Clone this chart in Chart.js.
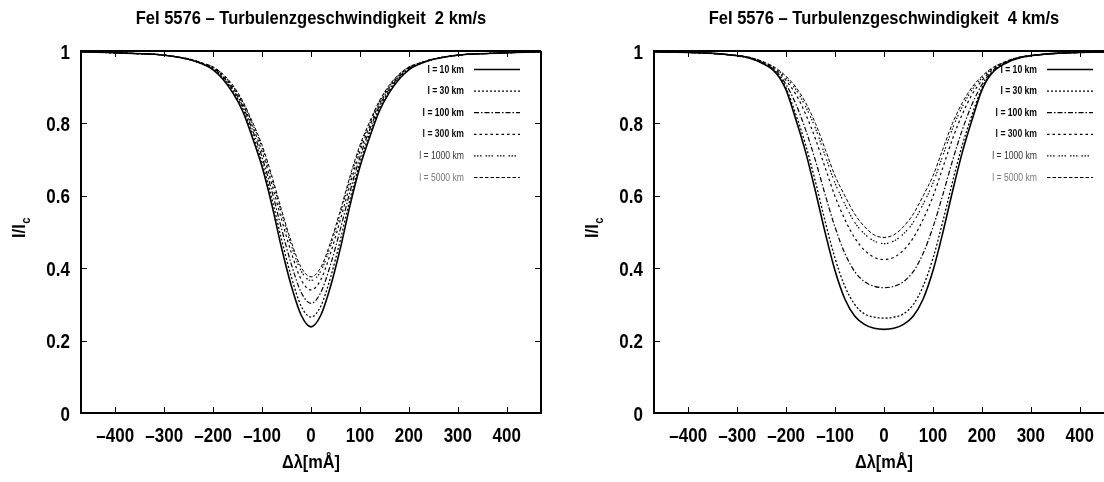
<!DOCTYPE html>
<html>
<head>
<meta charset="utf-8">
<script src="https://cdn.jsdelivr.net/npm/chart.js@4"></script>
<style>
  html, body { margin: 0; padding: 0; background: #fff; overflow: hidden; }
  #wrap { position: relative; width: 1104px; height: 482px; overflow: hidden; }
  canvas { position: absolute; top: 0; }
  #c1 { left: 0; }
  #c2 { left: 573px; }
</style>
</head>
<body>
<div id="wrap">
  <canvas id="c1" width="552" height="482"></canvas>
  <canvas id="c2" width="552" height="482"></canvas>
</div>
<script>
// wavelength offsets in mA
var dlam = [-470,-440,-400,-360,-320,-280,-250,-220,-200,-180,-160,-140,-120,-100,-80,-60,-40,-20,0,20,40,60,80,100,120,140,160,180,200,220,250,280,320,360,400,440,470];

var seriesNames = ['l = 10 km', 'l = 30 km', 'l = 100 km', 'l = 300 km', 'l = 1000 km', 'l = 5000 km'];

// turbulence 2 km/s
var v2_l10   = [0.998,0.997,0.995,0.993,0.991,0.985,0.977,0.963,0.948,0.922,0.885,0.835,0.762,0.680,0.575,0.455,0.350,0.270,0.238,0.270,0.350,0.455,0.575,0.680,0.762,0.835,0.885,0.922,0.948,0.963,0.977,0.985,0.991,0.993,0.995,0.997,0.998];
var v2_l30   = [0.998,0.997,0.995,0.993,0.991,0.985,0.977,0.963,0.950,0.926,0.890,0.842,0.772,0.692,0.592,0.478,0.375,0.295,0.265,0.295,0.375,0.478,0.592,0.692,0.772,0.842,0.890,0.926,0.950,0.963,0.977,0.985,0.991,0.993,0.995,0.997,0.998];
var v2_l100  = [0.998,0.997,0.995,0.993,0.991,0.985,0.977,0.964,0.952,0.929,0.895,0.849,0.783,0.707,0.613,0.508,0.410,0.333,0.303,0.333,0.410,0.508,0.613,0.707,0.783,0.849,0.895,0.929,0.952,0.964,0.977,0.985,0.991,0.993,0.995,0.997,0.998];
var v2_l300  = [0.998,0.997,0.995,0.993,0.991,0.985,0.978,0.965,0.954,0.932,0.900,0.855,0.793,0.722,0.632,0.534,0.442,0.368,0.340,0.368,0.442,0.534,0.632,0.722,0.793,0.855,0.900,0.932,0.954,0.965,0.978,0.985,0.991,0.993,0.995,0.997,0.998];
var v2_l1000 = [0.998,0.997,0.995,0.993,0.991,0.985,0.978,0.966,0.955,0.934,0.903,0.860,0.800,0.733,0.647,0.552,0.462,0.392,0.366,0.392,0.462,0.552,0.647,0.733,0.800,0.860,0.903,0.934,0.955,0.966,0.978,0.985,0.991,0.993,0.995,0.997,0.998];
var v2_l5000 = [0.998,0.997,0.995,0.993,0.991,0.985,0.978,0.966,0.956,0.936,0.906,0.863,0.805,0.740,0.655,0.560,0.472,0.402,0.376,0.402,0.472,0.560,0.655,0.740,0.805,0.863,0.906,0.936,0.956,0.966,0.978,0.985,0.991,0.993,0.995,0.997,0.998];

// turbulence 4 km/s
var v4_l10   = [0.998,0.997,0.996,0.994,0.990,0.982,0.967,0.938,0.892,0.810,0.720,0.612,0.497,0.393,0.315,0.268,0.245,0.234,0.231,0.234,0.245,0.268,0.315,0.393,0.497,0.612,0.720,0.810,0.892,0.938,0.967,0.982,0.990,0.994,0.996,0.997,0.998];
var v4_l30   = [0.998,0.997,0.996,0.994,0.990,0.982,0.968,0.940,0.897,0.824,0.740,0.638,0.528,0.427,0.350,0.300,0.274,0.265,0.262,0.265,0.274,0.300,0.350,0.427,0.528,0.638,0.740,0.824,0.897,0.940,0.968,0.982,0.990,0.994,0.996,0.997,0.998];
var v4_l100  = [0.998,0.997,0.996,0.994,0.990,0.983,0.969,0.943,0.907,0.853,0.782,0.697,0.602,0.513,0.441,0.391,0.363,0.350,0.346,0.350,0.363,0.391,0.441,0.513,0.602,0.697,0.782,0.853,0.907,0.943,0.969,0.983,0.990,0.994,0.996,0.997,0.998];
var v4_l300  = [0.998,0.997,0.996,0.994,0.990,0.983,0.970,0.947,0.918,0.880,0.825,0.757,0.677,0.598,0.535,0.484,0.450,0.430,0.424,0.430,0.450,0.484,0.535,0.598,0.677,0.757,0.825,0.880,0.918,0.947,0.970,0.983,0.990,0.994,0.996,0.997,0.998];
var v4_l1000 = [0.998,0.997,0.996,0.994,0.990,0.984,0.971,0.950,0.925,0.893,0.846,0.786,0.710,0.635,0.577,0.527,0.495,0.475,0.468,0.475,0.495,0.527,0.577,0.635,0.710,0.786,0.846,0.893,0.925,0.950,0.971,0.984,0.990,0.994,0.996,0.997,0.998];
var v4_l5000 = [0.998,0.997,0.996,0.994,0.990,0.984,0.972,0.952,0.930,0.900,0.857,0.800,0.728,0.655,0.600,0.550,0.515,0.492,0.485,0.492,0.515,0.550,0.600,0.655,0.728,0.800,0.857,0.900,0.930,0.952,0.972,0.984,0.990,0.994,0.996,0.997,0.998];

var xTicks = [-400,-300,-200,-100,0,100,200,300,400];
var yTicks = [0, 0.2, 0.4, 0.6, 0.8, 1];

var FONT = "'Liberation Sans', Arial, sans-serif";
var dashes = [[], [2,2], [5,2,1.5,2], [2.5,3], [1.5,1.5,1.5,1.5,1.5,4], [3.5,2]];
var widths = [1.6, 1.3, 1.2, 1.2, 1.2, 1.0];
var legendColors = ['#000','#000','#000','#111','#333','#777'];
var legendWeights = ['bold','bold','bold','bold','normal','normal'];

// narrow (Helvetica Narrow like) text: squeeze the glyphs horizontally
function narrowText(ctx, text, x, y, size, sx, align, weight, color) {
    ctx.save();
    ctx.font = (weight || 'bold') + ' ' + size + 'px ' + FONT;
    ctx.fillStyle = color || '#000';
    ctx.textAlign = align || 'center';
    ctx.textBaseline = 'alphabetic';
    ctx.translate(x, y);
    ctx.scale(sx, 1);
    ctx.fillText(text, 0, 0);
    ctx.restore();
}

function tickText(v) {
    if (v < 0) return '\u2013' + Math.abs(v);
    return String(Number(v.toFixed(1)));
}

var framePlugin = {
    id: 'frame',
    afterDraw: function (chart) {
        var ctx = chart.ctx;
        var a = chart.chartArea;
        var xs = chart.scales.x, ys = chart.scales.y;
        ctx.save();
        ctx.strokeStyle = '#000';
        ctx.lineWidth = 2;
        ctx.beginPath();
        ctx.moveTo(a.left, a.top); ctx.lineTo(a.right, a.top);
        ctx.moveTo(a.right, a.top); ctx.lineTo(a.right, a.bottom);
        ctx.stroke();

        // inward tick marks on all four sides
        ctx.lineWidth = 1;
        ctx.beginPath();
        xTicks.forEach(function (t) {
            var px = Math.round(xs.getPixelForValue(t)) + 0.5;
            ctx.moveTo(px, a.bottom); ctx.lineTo(px, a.bottom - 6);
            ctx.moveTo(px, a.top); ctx.lineTo(px, a.top + 6);
        });
        yTicks.forEach(function (t) {
            var py = Math.round(ys.getPixelForValue(t)) + 0.5;
            ctx.moveTo(a.left, py); ctx.lineTo(a.left + 6, py);
            ctx.moveTo(a.right, py); ctx.lineTo(a.right - 6, py);
        });
        ctx.stroke();
        ctx.restore();

        // tick labels
        xTicks.forEach(function (t) {
            narrowText(ctx, tickText(t), xs.getPixelForValue(t), a.bottom + 29, 20, 0.85, 'center');
        });
        yTicks.forEach(function (t) {
            narrowText(ctx, tickText(t), a.left - 11, ys.getPixelForValue(t) + 7.5, 20, 0.85, 'right');
        });

        var cx = (a.left + a.right) / 2;
        narrowText(ctx, chart.options.plugins.frame.title, cx, 24, 19, 0.87, 'center');
        narrowText(ctx, '\u0394\u03bb[m\u00c5]', cx, 468, 19, 0.86, 'center');

        // y axis label I/I_c
        ctx.save();
        ctx.translate(25, (a.top + a.bottom) / 2 - 4);
        ctx.rotate(-Math.PI / 2);
        ctx.font = 'bold 19px ' + FONT;
        var w1 = ctx.measureText('I/I').width * 0.86;
        ctx.font = 'bold 13px ' + FONT;
        var w2 = ctx.measureText('c').width * 0.86;
        var x0 = -(w1 + w2) / 2;
        narrowText(ctx, 'I/I', x0, 0, 19, 0.86, 'left');
        narrowText(ctx, 'c', x0 + w1 + 0.5, 5, 13, 0.86, 'left');
        ctx.restore();

        // key
        ctx.save();
        chart.data.datasets.forEach(function (ds, i) {
            var y = 69 + i * 21.6;
            narrowText(ctx, ds.label, a.right - 77, y + 3.5, 10.5, 0.82, 'right', legendWeights[i], legendColors[i]);
            ctx.strokeStyle = '#000';
            ctx.lineWidth = ds.borderWidth;
            ctx.setLineDash(ds.borderDash);
            ctx.beginPath();
            ctx.moveTo(a.right - 67, y + 0.5);
            ctx.lineTo(a.right - 21, y + 0.5);
            ctx.stroke();
            ctx.setLineDash([]);
        });
        ctx.restore();
    }
};

function makeChart(id, title, seriesValues) {
    var datasets = seriesValues.map(function (vals, i) {
        return {
            label: seriesNames[i],
            data: dlam.map(function (x, k) { return { x: x, y: vals[k] }; }),
            borderColor: '#000',
            borderWidth: widths[i],
            borderDash: dashes[i],
            pointRadius: 0,
            fill: false,
            cubicInterpolationMode: 'monotone'
        };
    });
    return new Chart(document.getElementById(id), {
        type: 'line',
        data: { datasets: datasets },
        options: {
            responsive: false,
            animation: false,
            layout: { padding: { top: 51, right: 11, bottom: 0, left: 0 } },
            scales: {
                x: {
                    type: 'linear',
                    min: -470,
                    max: 470,
                    afterFit: function (s) { s.height = 69; },
                    afterBuildTicks: function (s) { s.ticks = xTicks.map(function (v) { return { value: v }; }); },
                    grid: { display: false },
                    border: { display: true, color: '#000', width: 2 },
                    ticks: { display: false }
                },
                y: {
                    min: 0,
                    max: 1,
                    afterFit: function (s) { s.width = 81; },
                    afterBuildTicks: function (s) { s.ticks = yTicks.map(function (v) { return { value: v }; }); },
                    grid: { display: false },
                    border: { display: true, color: '#000', width: 2 },
                    ticks: { display: false }
                }
            },
            plugins: {
                legend: { display: false },
                tooltip: { enabled: false },
                frame: { title: title }
            }
        },
        plugins: [framePlugin]
    });
}

makeChart('c1', 'FeI 5576 \u2013 Turbulenzgeschwindigkeit  2 km/s',
    [v2_l10, v2_l30, v2_l100, v2_l300, v2_l1000, v2_l5000]);
makeChart('c2', 'FeI 5576 \u2013 Turbulenzgeschwindigkeit  4 km/s',
    [v4_l10, v4_l30, v4_l100, v4_l300, v4_l1000, v4_l5000]);
</script>
</body>
</html>
